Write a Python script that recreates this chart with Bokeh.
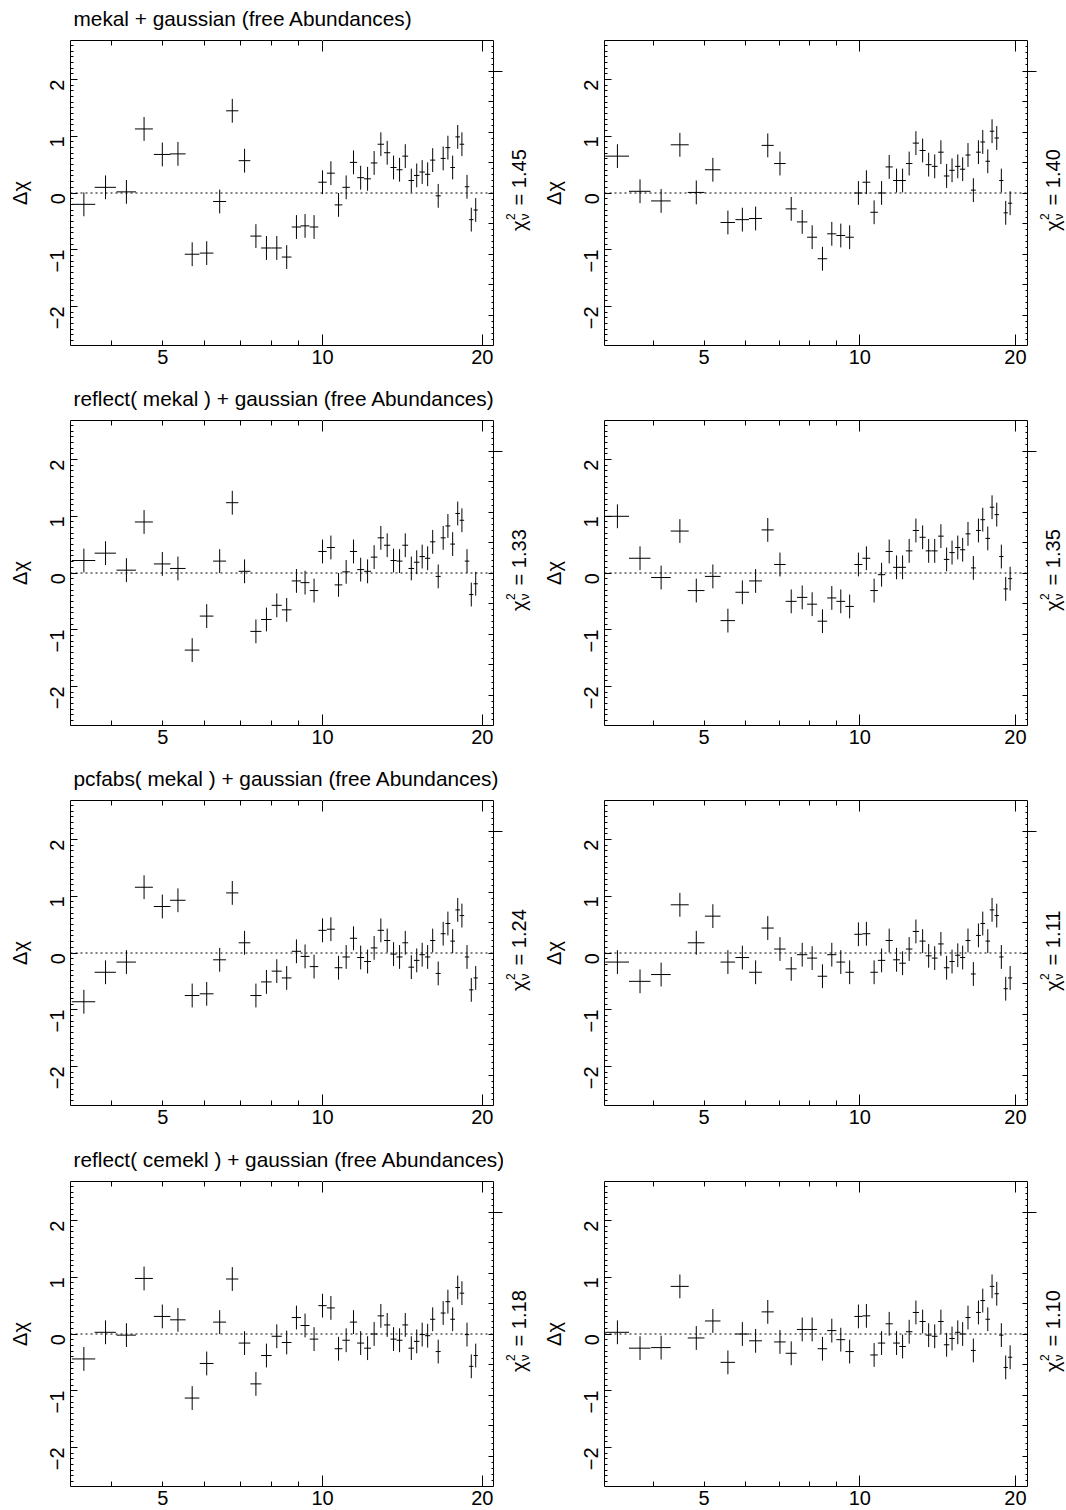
import math
import numpy as np
from bokeh.plotting import figure
from bokeh.models import ColumnDataSource, LinearAxis, FixedTicker, Span
from bokeh.core.properties import value
from bokeh.layouts import column, row
from bokeh.embed import file_html
from bokeh.resources import INLINE

# ---------------- data ----------------
energy_left = [3.55, 3.90, 4.27, 4.61, 4.99, 5.34, 5.68, 6.05, 6.40, 6.76, 7.13, 7.49, 7.84, 8.20,
               8.56, 8.93, 9.27, 9.64, 10.00, 10.37, 10.72, 11.08, 11.44, 11.80, 12.16, 12.51,
               12.88, 13.24, 13.61, 13.97, 14.32, 14.70, 15.05, 15.41, 15.78, 16.13, 16.52,
               16.88, 17.23, 17.59, 17.98, 18.31, 18.72, 19.07, 19.44]
energy_right = [3.40, 3.76, 4.13, 4.49, 4.83, 5.20, 5.56, 5.93, 6.29, 6.64, 7.01, 7.37, 7.74, 8.09,
                8.47, 8.83, 9.19, 9.56, 9.94, 10.30, 10.66, 11.02, 11.40, 11.78, 12.10, 12.46,
                12.84, 13.23, 13.59, 13.96, 14.35, 14.72, 15.08, 15.47, 15.81, 16.19, 16.58,
                16.96, 17.29, 17.68, 18.02, 18.40, 18.78, 19.15, 19.53]
energy_halfwidth = 0.18
dchi_err = 0.21

resid_mekal_a = [-0.20, 0.10, 0.02, 1.13, 0.68, 0.69, -1.08, -1.06, -0.15, 1.45, 0.57, -0.76, -0.97,
                 -0.97, -1.13, -0.60, -0.58, -0.60, 0.19, 0.35, -0.21, 0.10, 0.54, 0.27, 0.25, 0.53,
                 0.86, 0.71, 0.45, 0.41, 0.65, 0.22, 0.31, 0.37, 0.33, 0.58, -0.05, 0.61, 0.80, 0.45,
                 0.99, 0.86, 0.11, -0.47, -0.30]
resid_mekal_b = [0.65, 0.03, -0.14, 0.85, 0.01, 0.41, -0.52, -0.47, -0.45, 0.84, 0.52, -0.28, -0.51,
                 -0.78, -1.16, -0.72, -0.75, -0.78, 0.00, 0.19, -0.34, 0.00, 0.46, 0.22, 0.22, 0.52,
                 0.88, 0.75, 0.50, 0.47, 0.72, 0.30, 0.40, 0.47, 0.42, 0.67, 0.05, 0.72, 0.90, 0.56,
                 1.09, 0.97, 0.22, -0.35, -0.18]
resid_reflect_a = [0.22, 0.35, 0.05, 0.90, 0.16, 0.08, -1.36, -0.76, 0.21, 1.24, 0.03, -1.03, -0.82,
                   -0.57, -0.65, -0.14, -0.17, -0.31, 0.38, 0.45, -0.21, 0.02, 0.38, 0.06, 0.03, 0.28,
                   0.62, 0.49, 0.22, 0.21, 0.49, 0.08, 0.19, 0.29, 0.26, 0.55, -0.06, 0.62, 0.83,
                   0.51, 1.05, 0.93, 0.21, -0.38, -0.19]
resid_reflect_b = [1.00, 0.26, -0.08, 0.74, -0.31, -0.06, -0.84, -0.34, -0.14, 0.76, 0.15, -0.50,
                   -0.43, -0.55, -0.85, -0.44, -0.50, -0.59, 0.15, 0.26, -0.31, -0.03, 0.38, 0.10,
                   0.10, 0.39, 0.75, 0.63, 0.39, 0.39, 0.65, 0.24, 0.36, 0.45, 0.41, 0.69, 0.09,
                   0.75, 0.94, 0.61, 1.16, 1.03, 0.29, -0.28, -0.10]
resid_pcfabs_a = [-0.86, -0.34, -0.16, 1.16, 0.82, 0.93, -0.75, -0.72, -0.12, 1.06, 0.18, -0.75,
                  -0.51, -0.32, -0.44, 0.03, -0.06, -0.24, 0.40, 0.42, -0.26, -0.07, 0.26, -0.08,
                  -0.15, 0.09, 0.40, 0.22, -0.02, -0.07, 0.18, -0.25, -0.13, -0.03, -0.07, 0.22,
                  -0.36, 0.34, 0.52, 0.21, 0.76, 0.66, -0.07, -0.65, -0.44]
resid_pcfabs_b = [-0.16, -0.50, -0.38, 0.85, 0.18, 0.65, -0.16, -0.08, -0.34, 0.44, 0.07, -0.28,
                  -0.03, -0.09, -0.41, -0.03, -0.16, -0.34, 0.33, 0.34, -0.34, -0.13, 0.22, -0.12,
                  -0.18, 0.07, 0.38, 0.21, -0.05, -0.09, 0.16, -0.26, -0.15, -0.04, -0.08, 0.22,
                  -0.37, 0.31, 0.52, 0.21, 0.76, 0.66, -0.07, -0.63, -0.44]
resid_cemekl_a = [-0.44, 0.03, -0.02, 0.98, 0.31, 0.25, -1.13, -0.52, 0.21, 0.97, -0.16, -0.88,
                  -0.38, -0.04, -0.15, 0.29, 0.15, -0.09, 0.50, 0.46, -0.26, -0.11, 0.21, -0.16,
                  -0.25, 0.00, 0.32, 0.16, -0.09, -0.11, 0.16, -0.25, -0.13, -0.01, -0.03, 0.26,
                  -0.31, 0.37, 0.57, 0.26, 0.82, 0.72, -0.01, -0.57, -0.38]
resid_cemekl_b = [0.03, -0.25, -0.24, 0.84, -0.07, 0.23, -0.50, 0.00, -0.12, 0.39, -0.14, -0.34,
                  0.08, 0.08, -0.26, 0.06, -0.10, -0.31, 0.31, 0.32, -0.37, -0.16, 0.18, -0.16,
                  -0.22, 0.04, 0.38, 0.22, -0.02, -0.04, 0.22, -0.19, -0.08, 0.03, 0.00, 0.29,
                  -0.29, 0.38, 0.59, 0.26, 0.84, 0.71, -0.02, -0.59, -0.41]

titles = ["mekal + gaussian (free Abundances)",
          "reflect( mekal ) + gaussian (free Abundances)",
          "pcfabs( mekal ) + gaussian (free Abundances)",
          "reflect( cemekl ) + gaussian (free Abundances)"]
chi2_left = ["1.45", "1.33", "1.24", "1.18"]
chi2_right = ["1.40", "1.35", "1.11", "1.10"]
resid_left = [resid_mekal_a, resid_reflect_a, resid_pcfabs_a, resid_cemekl_a]
resid_right = [resid_mekal_b, resid_reflect_b, resid_pcfabs_b, resid_cemekl_b]

x_tick_labels = [5, 10, 20]
x_major_ticks = [10, 20]
x_minor_ticks = [4, 5, 6, 7, 8, 9]
y_tick_labels = [-2, -1, 0, 1, 2]

# ---------------- style ----------------
FONT = "Liberation Sans"
FS = "20px"
Y_LIM = 2.69
XR_LEFT = (3.35, 21.0)
XR_RIGHT = (3.21, 21.1)
UNIT_PX = 305.0 / (2 * Y_LIM)
FRAME_W = 423


def borders(last_row):
    return (41, 24, 370) if last_row else (40, 35, 380)


def tick_axis(ticks, minor, tin, min_in, tout=0, tick_color="black"):
    return LinearAxis(ticker=FixedTicker(ticks=ticks, minor_ticks=minor),
                      major_tick_in=tin, major_tick_out=tout,
                      minor_tick_in=min_in, minor_tick_out=0,
                      axis_line_color=None,
                      major_tick_line_color=tick_color, minor_tick_line_color=tick_color,
                      major_label_text_color=None, major_label_text_font_size="1px",
                      major_label_standoff=0, axis_label=None)


def make_panel(x, y, xr, title, left_col, last_row):
    top_b, bot_b, h = borders(last_row)
    bl = 70 if left_col else 71
    br = 10
    kw = dict(width=bl + FRAME_W + br, height=h, x_axis_type="log", x_range=xr,
              y_range=(-Y_LIM, Y_LIM), output_backend="svg", toolbar_location=None,
              x_axis_location=None, y_axis_location=None,
              min_border_left=bl, min_border_right=br,
              min_border_top=top_b, min_border_bottom=bot_b)
    if title is None:
        kw["title_location"] = None
    else:
        kw["title"] = title
    p = figure(**kw)
    p.outline_line_color = "black"
    p.outline_line_width = 1
    p.outline_line_alpha = 1.0
    p.background_fill_color = "white"
    p.border_fill_color = "white"
    p.xgrid.grid_line_color = None
    p.ygrid.grid_line_color = None
    if title is not None:
        p.title.text_font = FONT
        p.title.text_font_size = "20.8px"
        p.title.text_font_style = "normal"
        p.title.align = "left"
        p.title.offset = 3
        p.title.standoff = 6
        p.title.text_color = "black"

    # ---- axes ----
    y_minor = [round(v, 2) for v in np.arange(-2.6, 2.61, 0.1)]
    left = LinearAxis(ticker=FixedTicker(ticks=y_tick_labels, minor_ticks=y_minor),
                      major_tick_in=7, major_tick_out=0, minor_tick_in=3, minor_tick_out=0,
                      axis_line_color=None,
                      major_tick_line_color="black", minor_tick_line_color="black",
                      major_label_orientation=math.pi / 2,
                      major_label_text_font=FONT, major_label_text_font_size=FS,
                      major_label_text_color="black", major_label_standoff=13,
                      major_label_overrides={-2: "\u22122", -1: "\u22121", 0: "0", 1: "1", 2: "2"},
                      axis_label="\u0394\u03c7", axis_label_text_font=FONT,
                      axis_label_text_font_size=FS, axis_label_text_font_style="normal",
                      axis_label_text_color="black", axis_label_standoff=10)
    p.add_layout(left, "left")

    p.add_layout(tick_axis(x_major_ticks, x_minor_ticks, 11, 5), "above")
    if title is not None:
        # white (invisible) spacer tick that lifts the title away from the frame
        p.add_layout(tick_axis([10], [], 0, 0, tout=8, tick_color="white"), "above")
    p.add_layout(tick_axis(x_major_ticks, x_minor_ticks, 11, 5), "below")
    bottom_lab = LinearAxis(ticker=FixedTicker(ticks=x_tick_labels, minor_ticks=[]),
                            major_tick_in=0, major_tick_out=0, minor_tick_in=0, minor_tick_out=0,
                            axis_line_color=None, major_tick_line_color=None,
                            major_label_text_font=FONT, major_label_text_font_size=FS,
                            major_label_text_color="black", major_label_standoff=4)
    p.add_layout(bottom_lab, "below")

    grid10 = list(np.linspace(-Y_LIM, Y_LIM, 11)[1:-1])
    fine = list(np.linspace(-Y_LIM, Y_LIM, 51)[1:-1])
    p.add_layout(tick_axis(grid10, fine, 5, 2), "right")
    p.add_layout(tick_axis([grid10[-1]], [], 0, 0, tout=9), "right")

    # ---- zero line ----
    p.add_layout(Span(location=0, dimension="width", line_color="black",
                      line_width=1, line_dash="2 3"))

    # ---- data crosses ----
    xs = np.array(x, dtype=float)
    ys = np.array(y, dtype=float)
    src = ColumnDataSource(dict(x=xs, y=ys, xl=xs - energy_halfwidth, xh=xs + energy_halfwidth,
                                yl=ys - dchi_err, yh=ys + dchi_err))
    p.segment(x0="xl", y0="y", x1="xh", y1="y", source=src, line_color="black", line_width=1)
    p.segment(x0="x", y0="yl", x1="x", y1="yh", source=src, line_color="black", line_width=1)
    return p


def make_chi2_strip(chi2, width, last_row):
    top_b, bot_b, h = borders(last_row)
    f = figure(width=width, height=h, x_range=(0, width), y_range=(-Y_LIM, Y_LIM),
               output_backend="svg", toolbar_location=None, title_location=None,
               x_axis_location=None, y_axis_location=None,
               min_border_left=0, min_border_right=0,
               min_border_top=top_b, min_border_bottom=bot_b)
    f.outline_line_color = None
    f.xgrid.grid_line_color = None
    f.ygrid.grid_line_color = None
    f.background_fill_color = "white"
    f.border_fill_color = "white"
    # reduced chi-square: chi, superscript 2, subscript nu, "= value" (rotated, reading upward)
    src = ColumnDataSource(dict(
        x=[15.0, 6.5, 21.0, 15.0],
        y=[-38.0 / UNIT_PX, -27.0 / UNIT_PX, -27.0 / UNIT_PX, -12.4 / UNIT_PX],
        text=["\u03c7", "2", "\u03bd", "= " + chi2],
        fs=["20px", "12px", "13px", "20px"]))
    f.text(x="x", y="y", text="text", source=src, angle=math.pi / 2,
           text_align="left", text_baseline="alphabetic",
           text_font=value(FONT), text_font_size="fs", text_color="black")
    return f


rows = []
for i in range(4):
    last = (i == 3)
    pl = make_panel(energy_left, resid_left[i], XR_LEFT, titles[i], True, last)
    sl = make_chi2_strip(chi2_left[i], 533 - (70 + FRAME_W + 10), last)
    pr = make_panel(energy_right, resid_right[i], XR_RIGHT, None, False, last)
    sr = make_chi2_strip(chi2_right[i], 533 - (71 + FRAME_W + 10), last)
    rows.append(row(pl, sl, pr, sr))

layout = column(*rows)
open("out.html", "w").write(file_html(layout, INLINE))
